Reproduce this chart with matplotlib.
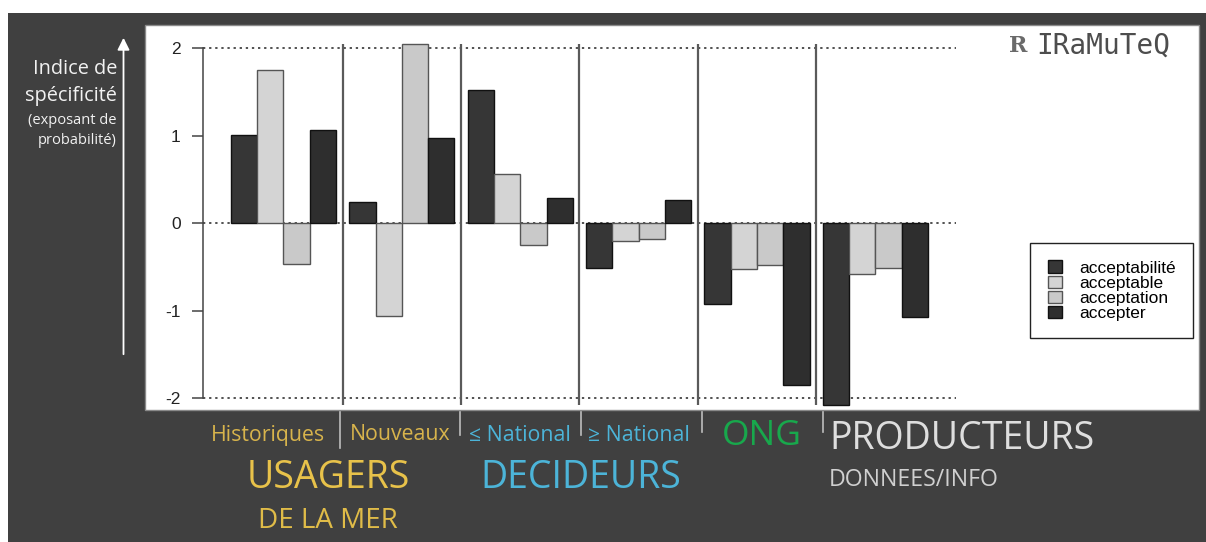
import matplotlib.pyplot as plt
import numpy as np
from matplotlib.lines import Line2D
from matplotlib.patches import FancyArrowPatch, Patch, Rectangle

# specificity scores, one list per form, in group order
groups = ["Historiques", "Nouveaux", "\u2264 National", "\u2265 National", "ONG", "PRODUCTEURS"]
forms = ["acceptabilit\u00e9", "acceptable", "acceptation", "accepter"]
acceptabilite = [1.01, 0.24, 1.52, -0.51, -0.92, -2.08]
acceptable = [1.75, -1.06, 0.56, -0.20, -0.52, -0.58]
acceptation = [-0.46, 2.05, -0.25, -0.18, -0.48, -0.51]
accepter = [1.07, 0.98, 0.29, 0.27, -1.85, -1.07]
series = [acceptabilite, acceptable, acceptation, accepter]
fills = ["#363636", "#d4d4d4", "#c9c9c9", "#2e2e2e"]
edges = ["#111111", "#555555", "#555555", "#111111"]

W, H = 1206, 542
BG = "#404040"


def fx(px):
    return px / W


def fy(py):
    return 1 - py / H


fig = plt.figure(figsize=(W / 100, H / 100), dpi=100, facecolor="white")

# dark slide panel and white plot card
fig.add_artist(Rectangle((fx(8), 0), fx(W) - fx(8), fy(13), transform=fig.transFigure,
                         facecolor=BG, edgecolor="none", zorder=-2))
fig.add_artist(Rectangle((fx(145), fy(410)), fx(1199) - fx(145), fy(25) - fy(410),
                         transform=fig.transFigure, facecolor="white", edgecolor="#8a8a8a",
                         lw=1, zorder=-1))

# barplot area (R style: bar width 1, half-bar gap between groups)
y_top, y_bot = 30, 410
ax = fig.add_axes([fx(203), fy(y_bot), fx(955.8) - fx(203), fy(y_top) - fy(y_bot)])
ax.set_zorder(2)
ax.set_facecolor("none")
n_groups = len(groups)
period = 4.5
for j, vals in enumerate(series):
    left = 0.5 + np.arange(n_groups) * period + j
    ax.bar(left + 0.5, vals, width=1.0, color=fills[j], edgecolor=edges[j],
           linewidth=1.0, zorder=3, clip_on=False)

ax.set_xlim(-0.56, 28.06)
ax.set_ylim(-2.134, 2.209)
for yv in (-2, 0, 2):
    ax.axhline(yv, color="#222222", ls=(0, (1.5, 2.5)), lw=1.1, zorder=1)

allv = np.concatenate(series)
seps = 0.5 + np.arange(1, n_groups) * period - 0.25
ax.vlines(seps, allv.min(), allv.max(), color="#5a5a5a", lw=1.6, zorder=2)

for s in ("top", "right", "bottom"):
    ax.spines[s].set_visible(False)
ax.spines["left"].set_bounds(-2, 2)
ax.spines["left"].set_color("#444444")
ax.spines["left"].set_linewidth(1.1)
ax.set_xticks([])
ax.set_yticks([-2, -1, 0, 1, 2])
ax.set_yticklabels(["-2", "-1", "0", "1", "2"])
ax.tick_params(axis="y", length=8, width=1.1, color="#444444", pad=8,
               labelsize=12.5, labelcolor="#222222")
for lab in ax.get_yticklabels():
    lab.set_fontfamily("Liberation Sans")

# legend box
handles = [Patch(facecolor=fills[j], edgecolor=edges[j], lw=1.0) for j in range(4)]
leg = fig.legend(handles, forms, loc="upper right", bbox_to_anchor=(fx(1193), fy(243)),
                 frameon=True, fancybox=False, edgecolor="#222222", framealpha=1,
                 prop={"family": "Liberation Sans", "size": 12.5}, handlelength=0.8,
                 handleheight=0.7, handletextpad=1.0, labelspacing=0.0,
                 borderpad=1.0, borderaxespad=0)
leg.get_frame().set_linewidth(1.0)
leg.set_zorder(3)

# software tag in the corner
fig.text(fx(1018), fy(46), "R", fontsize=16, fontweight="bold", color="#6a6a6a",
         ha="center", va="center", family="DejaVu Serif")
fig.text(fx(1036), fy(46), "IRaMuTeQ", fontsize=20, color="#4d4d4d", ha="left",
         va="center", family="DejaVu Sans Mono")

# y axis caption with arrow
fig.add_artist(FancyArrowPatch((fx(123.5), fy(357)), (fx(123.5), fy(35)),
                               transform=fig.transFigure, arrowstyle="-|>",
                               mutation_scale=18, color="white", lw=1.3))
cap = dict(family="Open Sans", color="#f2f2f2", ha="right", va="center")
fig.text(fx(117), fy(69), "Indice de", fontsize=14.3, **cap)
fig.text(fx(117), fy(96), "sp\u00e9cificit\u00e9", fontsize=14.3, **cap)
fig.text(fx(117), fy(121), "(exposant de", fontsize=10.5, **cap)
fig.text(fx(117), fy(141), "probabilit\u00e9)", fontsize=10.5, **cap)

# group labels under the plot
gold, blue, green, light = "#d8b44c", "#4cb4d8", "#18a84c", "#dedede"
lab = dict(family="Open Sans", va="center")
fig.text(fx(268), fy(435), groups[0], fontsize=15.3, color=gold, ha="center", **lab)
fig.text(fx(400), fy(435), groups[1], fontsize=15.3, color=gold, ha="center", **lab)
fig.text(fx(520), fy(435), groups[2], fontsize=15.3, color=blue, ha="center", **lab)
fig.text(fx(639), fy(435), groups[3], fontsize=15.3, color=blue, ha="center", **lab)
fig.text(fx(762), fy(436), groups[4], fontsize=25.5, color=green, ha="center", **lab)
fig.text(fx(829), fy(439), groups[5], fontsize=27, color=light, ha="left", **lab)
fig.text(fx(829), fy(480), "DONNEES/INFO", fontsize=16.7, color="#d0d0d0", ha="left", **lab)
fig.text(fx(328), fy(478), "USAGERS", fontsize=27, color="#e8c24a", ha="center", **lab)
fig.text(fx(328), fy(521), "DE LA MER", fontsize=20, color="#e0bc48", ha="center", **lab)
fig.text(fx(581), fy(478), "DECIDEURS", fontsize=27, color=blue, ha="center", **lab)

# little separators between the label words
for xs, y1 in [(340, 448), (460, 435), (581, 435), (702, 432), (823, 432)]:
    fig.add_artist(Line2D([fx(xs), fx(xs)], [fy(412), fy(y1)], transform=fig.transFigure,
                          color="#bdbdbd", lw=1.2))

fig.savefig("out.png", dpi=100, facecolor=fig.get_facecolor())
